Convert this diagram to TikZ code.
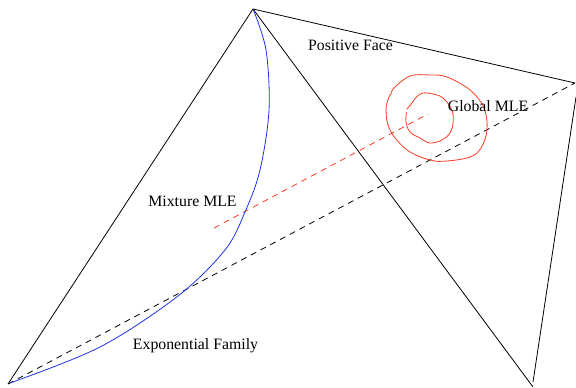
\documentclass[tikz,border=0pt]{standalone}
\usepackage{fontspec}
\setmainfont{Liberation Serif}
\definecolor{curveblue}{RGB}{30,50,225}
\definecolor{contred}{RGB}{250,60,30}
\begin{document}
\begin{tikzpicture}[x=1pt,y=-1pt,
  edge/.style={line width=0.8pt},
  dashedge/.style={line width=0.8pt, dash pattern=on 6pt off 5pt},
  contour/.style={line width=0.8pt, contred},
  lbl/.style={font=\fontsize{15.8}{18}\selectfont, anchor=base, inner sep=0pt}]
\useasboundingbox (0,0) rectangle (576,388);
\coordinate (A) at (8,384);
\coordinate (B) at (253,9);
\coordinate (C) at (575,83);
\coordinate (Cr) at (576,97);
\coordinate (D) at (533,387);
\coordinate (Dr) at (533,382);
\coordinate (R1) at (214,228);
\coordinate (R2) at (428,114);
\draw[edge] (A) -- (B) -- (C);
\draw[edge] (B) -- (D);
\draw[edge] (Cr) -- (Dr);
\draw[dashedge] (A) -- (C);
\draw[dashedge, contred] (R1) -- (R2);
\draw[edge, curveblue] plot[smooth, tension=0.55] coordinates {(253,9) (266,50) (269,110) (260,170) (245,212) (225,250) (178,296) (100,347) (10,383)};
\draw[contour] plot[smooth cycle, tension=0.6] coordinates {(391,94) (394,88) (410,76) (430,75) (447,77) (470,90) (484,108) (487,130) (481,148) (470,157) (447,161) (430,160) (407,150) (390,130) (386,110) (389,97)};
\draw[contour] plot[smooth, tension=0.6] coordinates {(406.7,109.3) (411.7,103.3) (416.7,96.7) (423,93) (433,94) (443,98) (452,110) (453,123) (450,133) (442,140) (430,143) (420,138) (410,132) (406,122) (406.5,112)};
\node[lbl] (pf) at (350.5,50.7) {Positive Face};
\node[lbl] (gm) at (488,111.7) {Global MLE};
\node[lbl] (mm) at (192.5,206.7) {Mixture MLE};
\node[lbl] (ef) at (195.5,349.3) {Exponential Family};
\end{tikzpicture}
\end{document}
